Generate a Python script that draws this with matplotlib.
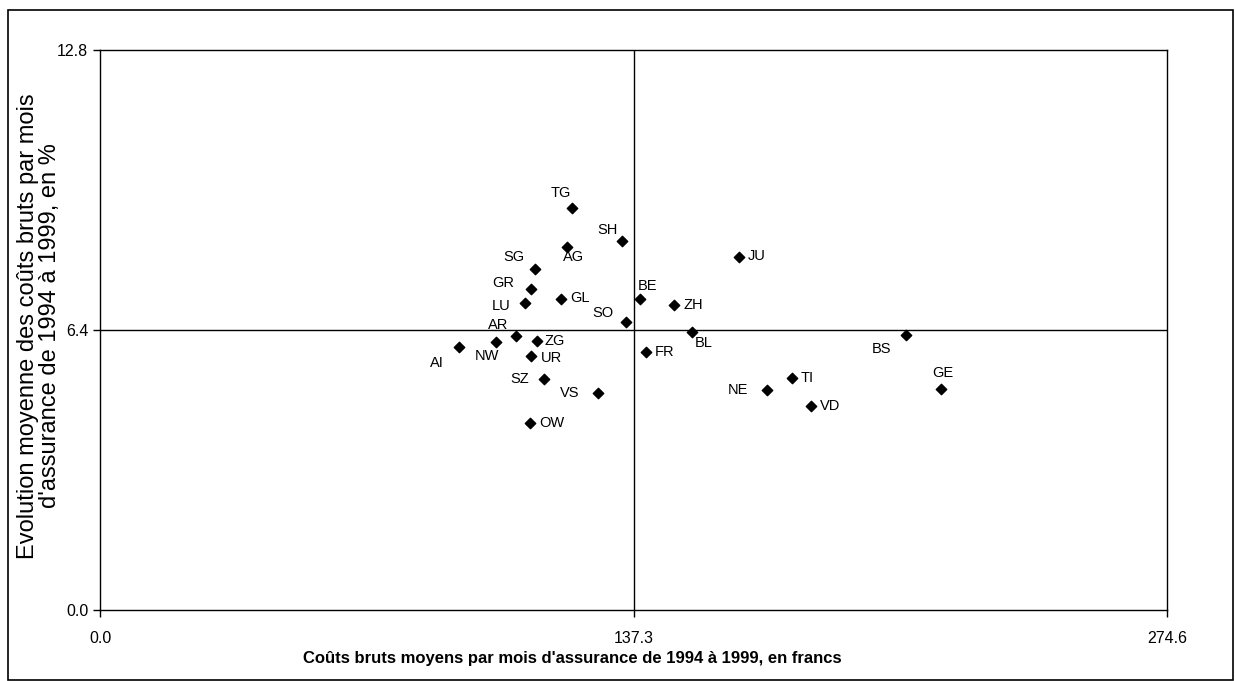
import matplotlib.pyplot as plt
from matplotlib.patches import Rectangle

plt.rcParams['font.family'] = ['Liberation Sans', 'DejaVu Sans']

# Cantons: mean gross cost per month (francs) and mean evolution (%)
cantons = ['TG', 'SH', 'AG', 'JU', 'SG', 'GR', 'GL', 'BE', 'LU', 'ZH', 'SO', 'AR', 'BL',
           'AI', 'NW', 'ZG', 'UR', 'FR', 'SZ', 'VS', 'OW', 'TI', 'NE', 'VD', 'BS', 'GE']
couts = [121.6, 134.3, 120.3, 164.5, 112.0, 110.8, 118.6, 139.0, 109.5, 147.7, 135.3, 107.0, 152.4,
         92.3, 102.0, 112.4, 110.8, 140.5, 114.3, 128.2, 110.7, 178.0, 171.7, 183.0, 207.4, 216.4]
evolution = [9.18, 8.44, 8.30, 8.08, 7.79, 7.34, 7.12, 7.12, 7.02, 6.97, 6.59, 6.27, 6.35,
             6.02, 6.13, 6.15, 5.81, 5.90, 5.27, 4.95, 4.28, 5.30, 5.02, 4.67, 6.29, 5.06]

x_ticks = [0.0, 137.3, 274.6]
y_ticks = [0.0, 6.4, 12.8]

# label offsets in pixels (dx, dy)
offsets = {
    'TG': (-12, 15), 'SH': (-14, 11), 'AG': (6, -10), 'JU': (18, 0), 'SG': (-21, 12),
    'GR': (-27, 6), 'GL': (19, 0), 'BE': (7, 12), 'LU': (-24, -3), 'ZH': (19, 0),
    'SO': (-23, 9), 'AR': (-18, 11), 'BL': (12, -11), 'AI': (-22, -16), 'NW': (-9, -14),
    'ZG': (18, 0), 'UR': (21, -2), 'FR': (19, 0), 'SZ': (-24, 0), 'VS': (-28, 0),
    'OW': (22, 0), 'TI': (16, 0), 'NE': (-29, 0), 'VD': (19, 0), 'BS': (-24, -14),
    'GE': (2, 16),
}

fig = plt.figure(figsize=(12.35, 6.81), dpi=100)
ax = fig.add_axes([100 / 1235, 71 / 681, 1067 / 1235, 560 / 681])

ax.scatter(couts, evolution, marker='D', s=28, color='black', zorder=3)
for name, x, y in zip(cantons, couts, evolution):
    dx, dy = offsets[name]
    ax.annotate(name, (x, y), xytext=(dx, dy), textcoords='offset pixels',
                ha='center', va='center', fontsize=10.5)

ax.axvline(x_ticks[1], color='black', lw=1)
ax.axhline(y_ticks[1], color='black', lw=1)

ax.set_xlim(x_ticks[0], x_ticks[-1])
ax.set_ylim(y_ticks[0], y_ticks[-1])
ax.set_xticks(x_ticks)
ax.set_yticks(y_ticks)
ax.set_xticklabels([f'{v:.1f}' for v in x_ticks])
ax.set_yticklabels([f'{v:.1f}' for v in y_ticks])
ax.tick_params(axis='both', labelsize=11.5, length=5, width=1, direction='out')
ax.tick_params(axis='x', pad=10)
for s in ax.spines.values():
    s.set_linewidth(1)

fig.text(572 / 1235, 1 - 658 / 681,
         "Coûts bruts moyens par mois d'assurance de 1994 à 1999, en francs",
         ha='center', va='center', fontsize=12, fontweight='bold')
fig.text(39 / 1235, 1 - 326 / 681,
         "Evolution moyenne des coûts bruts par mois\nd'assurance de 1994 à 1999, en %",
         ha='center', va='center', rotation=90, fontsize=17, linespacing=1.05)

# outer frame
fig.patches.append(Rectangle((8 / 1235, 0.001), 1225 / 1235, 670 / 681,
                             transform=fig.transFigure, fill=False,
                             edgecolor='black', lw=1.2))

fig.savefig('out.png', dpi=100)
